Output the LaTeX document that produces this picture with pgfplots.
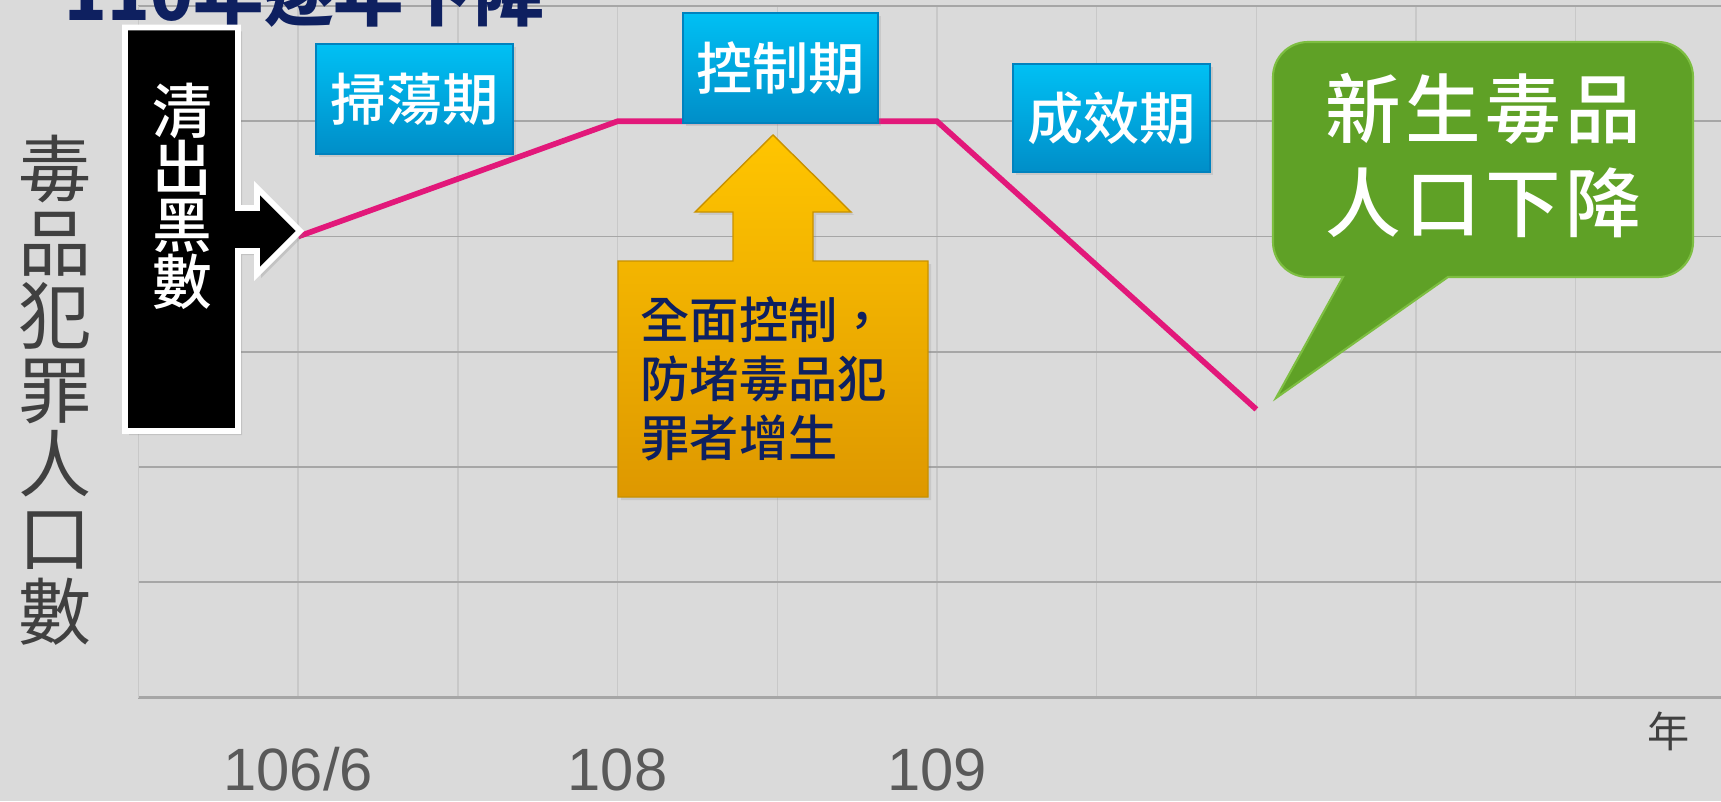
\documentclass[border=0pt]{standalone}
\usepackage{pgfplots}
\pgfplotsset{compat=1.18}
\usepackage{fontspec}
\setmainfont{Liberation Sans}
\newfontfamily\cjk{Noto Sans CJK TC}
\newfontfamily\cjkm{Noto Sans CJK TC Medium}
\usetikzlibrary{shadows}
\definecolor{bg}{RGB}{218,218,218}
\definecolor{hgrid}{RGB}{166,166,166}
\definecolor{vgrid}{RGB}{200,200,200}
\definecolor{mag}{RGB}{226,24,122}
\definecolor{tickgray}{RGB}{89,89,89}
\definecolor{ylab}{RGB}{64,64,64}
\definecolor{navy}{RGB}{14,32,96}
\definecolor{bluetop}{RGB}{0,192,244}
\definecolor{bluebot}{RGB}{0,142,200}
\definecolor{blueborder}{RGB}{0,130,190}
\definecolor{yel1}{RGB}{255,197,0}
\definecolor{yel2}{RGB}{222,152,0}
\definecolor{yelborder}{RGB}{200,145,0}
\definecolor{grn}{RGB}{95,161,38}
\definecolor{grnborder}{RGB}{125,190,65}
\begin{document}
\begin{tikzpicture}[x=0.1mm,y=0.1mm]
\useasboundingbox (0,0) rectangle (1721,801);
\clip (0,0) rectangle (1721,801);
\fill[bg] (0,0) rectangle (1721,801);
\begin{axis}[
  at={(13.85mm,10.35mm)}, anchor=south west,
  scale only axis, width=159.7mm, height=69.15mm,
  xmin=0, xmax=10, ymin=0, ymax=6,
  axis x line=bottom, axis y line=left, axis line style={-},
  x axis line style={draw=hgrid, line width=0.7pt},
  y axis line style={draw=vgrid, line width=0.4pt},
  xtick={0,...,10}, ytick={0,...,6},
  xticklabels={{},106/6,{},108,{},109},
  yticklabels={},
  major tick length=0pt,
  grid=major,
  major x grid style={draw=vgrid, line width=0.4pt},
  major y grid style={draw=hgrid, line width=0.45pt},
  /pgf/number format/assume math mode=true,
  xticklabel style={font=\fontsize{17}{20}\selectfont, text=tickgray, anchor=center, yshift=-7.2mm},
  clip=false,
]
\addplot[draw=mag, line width=1.6pt, no markers] coordinates {(1,4) (3,5) (5,5) (7,2.5)};
\end{axis}

% title (partly cut off)
\node[anchor=base west, text=navy, inner sep=0, font=\cjk\bfseries\fontsize{20}{24}\selectfont] at (64,780) {110年逐年下降};

% y label
\node[text=ylab, align=center, inner sep=0, font=\cjk\fontsize{20.8}{21}\selectfont] at (55.5,411) {毒\\品\\犯\\罪\\人\\口\\數};

% x unit
\node[text=ylab, inner sep=0, font=\cjk\fontsize{12}{14}\selectfont] at (1669,70) {年};

% black callout
\draw[fill=black, draw=white, line width=1.7pt, line join=miter, drop shadow={opacity=0.25, shadow xshift=0.4mm, shadow yshift=-0.4mm}]
 (125,773.5) -- (238,773.5) -- (238,593) -- (257,593) -- (257,613) -- (300,570) -- (257,527) -- (257,550) -- (238,550) -- (238,370) -- (125,370) -- cycle;
\node[text=white, align=center, inner sep=0, font=\cjkm\fontsize{17}{16.2}\selectfont] at (182,605) {清\\出\\黑\\數};

% blue boxes
\path[top color=bluetop, bottom color=bluebot, draw=blueborder, line width=0.4pt, drop shadow={opacity=0.2, shadow xshift=0.3mm, shadow yshift=-0.3mm}] (316,757) rectangle (513,647);
\node[text=white, inner sep=0, font=\cjkm\fontsize{16}{19}\selectfont] at (414.5,702) {掃蕩期};
\path[top color=bluetop, bottom color=bluebot, draw=blueborder, line width=0.4pt, drop shadow={opacity=0.2, shadow xshift=0.3mm, shadow yshift=-0.3mm}] (683,788) rectangle (878,678);
\node[text=white, inner sep=0, font=\cjkm\fontsize{16}{19}\selectfont] at (780.5,733) {控制期};
\path[top color=bluetop, bottom color=bluebot, draw=blueborder, line width=0.4pt, drop shadow={opacity=0.2, shadow xshift=0.3mm, shadow yshift=-0.3mm}] (1013,737) rectangle (1210,629);
\node[text=white, inner sep=0, font=\cjkm\fontsize{16}{19}\selectfont] at (1111.5,683) {成效期};

% yellow up-arrow callout
\path[top color=yel1, bottom color=yel2, draw=yelborder, line width=0.4pt, drop shadow={opacity=0.2, shadow xshift=0.3mm, shadow yshift=-0.3mm}]
 (618,540) -- (733,540) -- (733,589) -- (695,589) -- (773,666) -- (851,589) -- (813,589) -- (813,540) -- (928,540) -- (928,304) -- (618,304) -- cycle;
\node[anchor=west, align=left, inner sep=0, text=navy, font=\cjkm\fontsize{14}{16.8}\selectfont] at (640,422) {全面控制，\\防堵毒品犯\\罪者增生};

% green speech bubble
\path[fill=grn, draw=grnborder, line width=0.6pt]
 (1343,524) -- (1308,524) arc[start angle=270, end angle=180, radius=3.5mm]
 -- (1273,724) arc[start angle=180, end angle=90, radius=3.5mm]
 -- (1658,759) arc[start angle=90, end angle=0, radius=3.5mm]
 -- (1693,559) arc[start angle=0, end angle=-90, radius=3.5mm]
 -- (1448,524) -- (1276,403) -- cycle;
\node[text=white, align=center, inner sep=0, font=\cjkm\fontsize{21.5}{26.5}\selectfont\addfontfeature{LetterSpace=6}] at (1483,645.5) {新生毒品\\人口下降};
\end{tikzpicture}
\end{document}
